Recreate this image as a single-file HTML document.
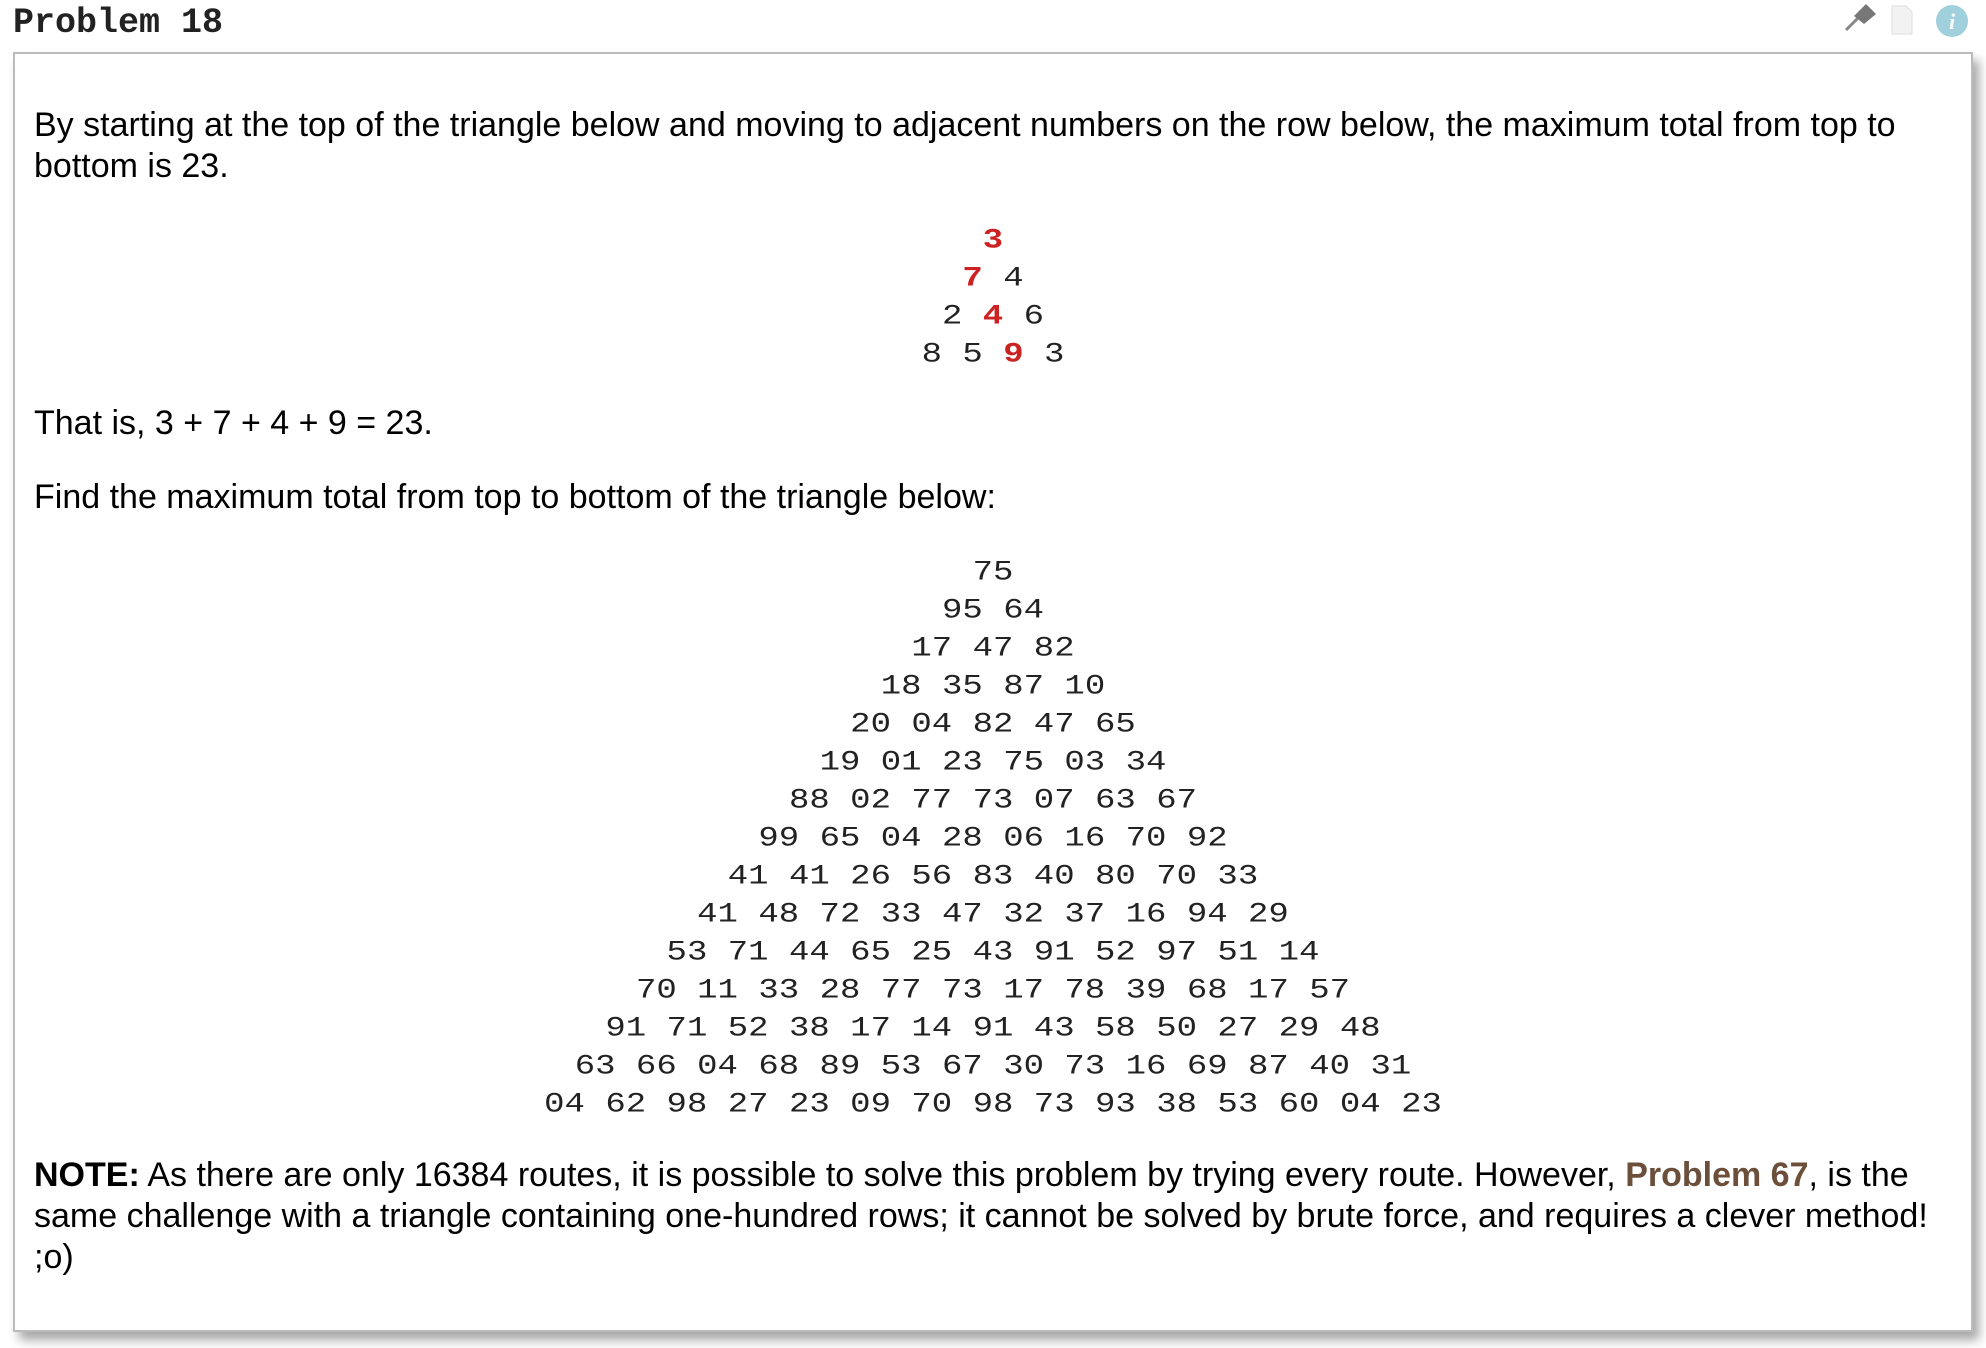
<!DOCTYPE html>
<html><head><meta charset="utf-8"><style>
html,body{margin:0;padding:0;background:#fff;width:1986px;height:1348px;overflow:hidden;position:relative;font-family:"Liberation Sans",Arial,sans-serif;color:#000}
.title{position:absolute;left:13px;top:3px;font-family:"Liberation Mono",monospace;font-weight:bold;font-size:35px;color:#222}
.box{position:absolute;left:13px;top:52px;width:1956px;height:1276px;border:2px solid #bbb;background:#fff;box-shadow:6px 8px 10px rgba(0,0,0,0.35)}
.p{position:absolute;left:34px;font-size:34px;line-height:41px;white-space:nowrap}
.row{position:absolute;left:0;width:1986px;text-align:center;font-family:"Liberation Mono",monospace;font-size:34px;white-space:pre;color:#222;line-height:38px;transform:scaleY(0.82)}
.r{color:#cc2222;font-weight:bold}
a{color:#6b4f3a;font-weight:bold;text-decoration:none}
</style></head><body>
<div class="title">Problem 18</div>
<svg style="position:absolute;left:1840px;top:2px" width="140" height="40">
<g><line x1="6" y1="28" x2="18" y2="16" stroke="#888" stroke-width="3"/><polygon points="14,14 26,2 36,12 24,22" fill="#777"/></g>
<g><polygon points="52,4 66,4 72,10 72,32 52,32" fill="#f2f2f2" stroke="#ddd"/></g>
<g><circle cx="112" cy="19" r="16" fill="#9fd0dc"/><text x="112" y="27" text-anchor="middle" font-family="Liberation Serif,serif" font-style="italic" font-weight="bold" font-size="22" fill="#fff">i</text></g>
</svg>
<div class="box"></div>
<div class="p" style="top:105px">By starting at the top of the triangle below and moving to adjacent numbers on the row below, the maximum total from top to<br>bottom is 23.</div>
<div>
<div class="row" style="top:222px"><span class="r">3</span></div>
<div class="row" style="top:260px"><span class="r">7</span> 4</div>
<div class="row" style="top:298px">2 <span class="r">4</span> 6</div>
<div class="row" style="top:336px">8 5 <span class="r">9</span> 3</div>
</div>
<div class="p" style="top:403px">That is, 3 + 7 + 4 + 9 = 23.</div>
<div class="p" style="top:477px">Find the maximum total from top to bottom of the triangle below:</div>
<div id="tri"></div>
<div class="p" style="top:1155px"><b>NOTE:</b> As there are only 16384 routes, it is possible to solve this problem by trying every route. However, <a href="#">Problem 67</a>, is the<br>same challenge with a triangle containing one-hundred rows; it cannot be solved by brute force, and requires a clever method!<br>;o)</div>
<script>
const rows=["75","95 64","17 47 82","18 35 87 10","20 04 82 47 65","19 01 23 75 03 34","88 02 77 73 07 63 67","99 65 04 28 06 16 70 92","41 41 26 56 83 40 80 70 33","41 48 72 33 47 32 37 16 94 29","53 71 44 65 25 43 91 52 97 51 14","70 11 33 28 77 73 17 78 39 68 17 57","91 71 52 38 17 14 91 43 58 50 27 29 48","63 66 04 68 89 53 67 30 73 16 69 87 40 31","04 62 98 27 23 09 70 98 73 93 38 53 60 04 23"];
const tri=document.getElementById('tri');
rows.forEach((r,i)=>{const d=document.createElement('div');d.className='row';d.style.top=(554+i*38)+'px';d.textContent=r;


tri.appendChild(d);});
</script>
</body></html>
